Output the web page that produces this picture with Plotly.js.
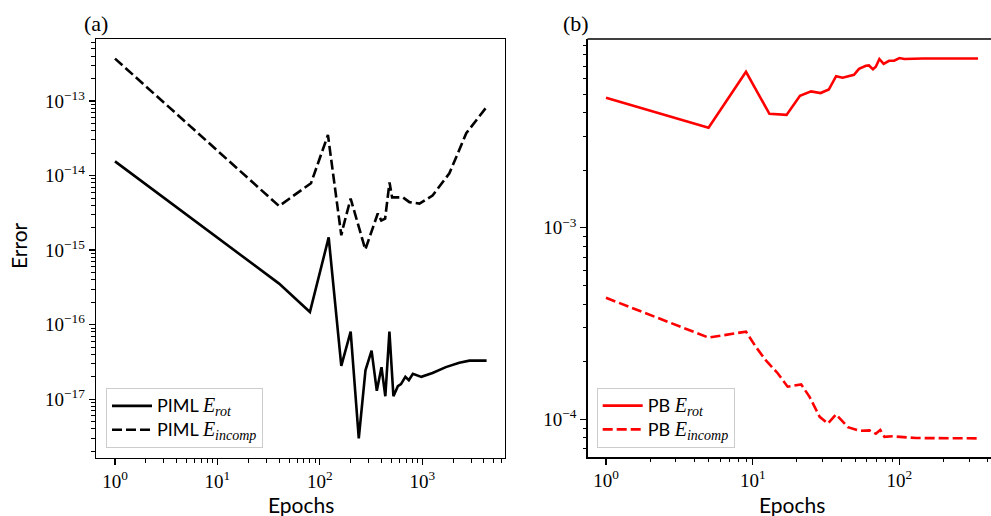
<!DOCTYPE html>
<html>
<head>
<meta charset="utf-8">
<script src="https://cdn.plot.ly/plotly-3.0.1.min.js"></script>
<style>html,body{margin:0;padding:0;background:#fff;}#chart{width:991px;height:516px;}</style>
</head>
<body>
<div id="chart"></div>
<script>
// ---- Data ----
const pimlRotEpochs = [1, 40, 80, 122, 162, 200, 240, 279, 320, 360, 400, 436, 478, 523, 578, 620, 684, 740, 810, 980, 1260, 1700, 2300, 2890, 4250];
const pimlRot = [1.55e-14, 3.56e-16, 1.48e-16, 1.48e-15, 2.8e-17, 8.1e-17, 3.0e-18, 2.45e-17, 4.5e-17, 1.3e-17, 2.7e-17, 1.1e-17, 8.1e-17, 1.1e-17, 1.5e-17, 1.6e-17, 2.0e-17, 1.8e-17, 2.2e-17, 2.0e-17, 2.25e-17, 2.7e-17, 3.1e-17, 3.3e-17, 3.3e-17];

const pimlIncEpochs = [1, 40, 82, 120, 162, 169, 200, 278, 368, 398, 434, 479, 508, 646, 750, 940, 1260, 1840, 2690, 3350, 4250];
const pimlInc = [3.7e-13, 3.9e-15, 7.9e-15, 3.5e-14, 1.58e-15, 2.04e-15, 4.9e-15, 1.02e-15, 3.1e-15, 2.5e-15, 2.65e-15, 8.1e-15, 5.1e-15, 5.1e-15, 4.4e-15, 4.2e-15, 5.4e-15, 1.07e-14, 3.7e-14, 5.5e-14, 8.3e-14];

const pbRotEpochs = [1, 5, 9, 13, 17, 21, 25, 29, 33, 37, 41, 49, 53, 59, 62, 66, 69, 73, 78, 85, 92, 100, 108, 144, 343];
const pbRot = [4.78e-3, 3.33e-3, 6.53e-3, 3.94e-3, 3.89e-3, 4.9e-3, 5.16e-3, 5.06e-3, 5.28e-3, 6.2e-3, 6.08e-3, 6.3e-3, 6.77e-3, 7.03e-3, 7.05e-3, 6.73e-3, 6.94e-3, 7.62e-3, 7.19e-3, 7.46e-3, 7.46e-3, 7.71e-3, 7.62e-3, 7.66e-3, 7.66e-3];

const pbIncEpochs = [1, 5, 9, 10.5, 12.3, 14.8, 17.3, 21.4, 24.4, 28.6, 32.5, 37, 44.5, 53.4, 62.5, 69, 74, 79, 90, 130, 343];
const pbInc = [4.31e-4, 2.67e-4, 2.87e-4, 2.39e-4, 2.03e-4, 1.74e-4, 1.48e-4, 1.52e-4, 1.31e-4, 1.03e-4, 9.5e-5, 1.06e-4, 9.1e-5, 8.7e-5, 8.75e-5, 8.4e-5, 8.8e-5, 8.1e-5, 8.15e-5, 7.98e-5, 7.95e-5];

const xTickValsA = [1, 10, 100, 1000];
const xTickTextA = ['10<sup>0</sup>', '10<sup>1</sup>', '10<sup>2</sup>', '10<sup>3</sup>'];
const yTickValsA = [1e-17, 1e-16, 1e-15, 1e-14, 1e-13];
const yTickTextA = ['10<sup>\u221217</sup>', '10<sup>\u221216</sup>', '10<sup>\u221215</sup>', '10<sup>\u221214</sup>', '10<sup>\u221213</sup>'];
const xTickValsB = [1, 10, 100];
const xTickTextB = ['10<sup>0</sup>', '10<sup>1</sup>', '10<sup>2</sup>'];
const yTickValsB = [1e-4, 1e-3];
const yTickTextB = ['10<sup>\u22124</sup>', '10<sup>\u22123</sup>'];

const seriesLabels = ['PIML', 'PIML', 'PB', 'PB'];
const seriesSymbols = ['rot', 'incomp', 'rot', 'incomp'];

function legendName(i) {
  return '<span style="font-size:18px">' + seriesLabels[i] + ' </span>' +
    '<span style="font-family:Liberation Serif;font-size:20px"><i>E<sub>' + seriesSymbols[i] + '</sub></i></span>';
}

// ---- Layout helpers (pixels -> paper) ----
const W = 991, H = 516;
const px = v => v / W;
const py = v => (H - v) / H;

function minorVals(lo, hi) {
  const out = [];
  for (let e = lo; e <= hi; e++) for (let m = 2; m <= 9; m++) out.push(m * Math.pow(10, e));
  return out;
}

const sansFont = 'Lato, "Open Sans", sans-serif';
const serifFont = '"Liberation Serif", "DejaVu Serif", serif';

function axisBase(extra) {
  return Object.assign({
    type: 'log', showgrid: false, zeroline: false,
    showline: true, linecolor: '#000', linewidth: 1.3, mirror: true,
    ticks: 'outside', ticklen: 6, tickwidth: 1.3, tickcolor: '#000',
    tickfont: {family: serifFont, size: 19, color: '#000'},
    tickmode: 'array'
  }, extra);
}

const traces = [
  {x: pimlRotEpochs, y: pimlRot, xaxis: 'x', yaxis: 'y', mode: 'lines', name: legendName(0),
   line: {color: '#000', width: 2.6}, legend: 'legend'},
  {x: pimlIncEpochs, y: pimlInc, xaxis: 'x', yaxis: 'y', mode: 'lines', name: legendName(1),
   line: {color: '#000', width: 2.6, dash: '10px,4px'}, legend: 'legend'},
  {x: pbRotEpochs, y: pbRot, xaxis: 'x2', yaxis: 'y2', mode: 'lines', name: legendName(2),
   line: {color: '#ff0000', width: 2.6}, legend: 'legend2'},
  {x: pbIncEpochs, y: pbInc, xaxis: 'x2', yaxis: 'y2', mode: 'lines', name: legendName(3),
   line: {color: '#ff0000', width: 2.6, dash: '10px,4px'}, legend: 'legend2'}
];

const minorStyle = {ticks: 'outside', ticklen: 3.5, tickwidth: 1, tickcolor: '#000', showgrid: false};

const legendStyle = {
  bgcolor: 'rgba(255,255,255,0.8)', bordercolor: '#cccccc', borderwidth: 1,
  font: {family: sansFont, size: 16, color: '#000'},
  xanchor: 'left', yanchor: 'bottom', itemwidth: 40, tracegroupgap: 0
};

const layout = {
  width: W, height: H,
  margin: {l: 0, r: 0, t: 0, b: 0},
  paper_bgcolor: '#fff', plot_bgcolor: '#fff',
  showlegend: true,
  xaxis: axisBase({domain: [px(96), px(505)], range: [-0.1855, 3.808], anchor: 'y',
    tickvals: xTickValsA, ticktext: xTickTextA,
    minor: Object.assign({tickmode: 'array', tickvals: minorVals(0, 3)}, minorStyle)}),
  yaxis: axisBase({domain: [py(458), py(39)], range: [-17.787, -12.169], anchor: 'x',
    tickvals: yTickValsA, ticktext: yTickTextA,
    minor: Object.assign({tickmode: 'array', tickvals: minorVals(-18, -13)}, minorStyle)}),
  xaxis2: axisBase({domain: [px(587.5), 1], range: [-0.126, 2.624], anchor: 'y2', mirror: false,
    tickvals: xTickValsB, ticktext: xTickTextB,
    minor: Object.assign({tickmode: 'array', tickvals: minorVals(0, 2)}, minorStyle)}),
  yaxis2: axisBase({domain: [py(457.3), py(39)], range: [-4.1986, -2.0136], anchor: 'x2', mirror: false,
    tickvals: yTickValsB, ticktext: yTickTextB,
    minor: Object.assign({tickmode: 'array', tickvals: minorVals(-5, -3)}, minorStyle)}),
  legend: Object.assign({x: px(106), y: py(448)}, legendStyle),
  legend2: Object.assign({x: px(596.7), y: py(447.7)}, legendStyle),
  shapes: [
    {type: 'line', xref: 'x2 domain', yref: 'y2 domain', x0: 0, x1: 1.02, y0: 1, y1: 1,
     line: {color: '#000', width: 1.3}}
  ],
  annotations: [
    {text: '(a)', x: px(96), y: py(23.5), xref: 'paper', yref: 'paper', xanchor: 'center', yanchor: 'middle',
     showarrow: false, font: {family: serifFont, size: 22, color: '#000'}},
    {text: '(b)', x: px(575.5), y: py(23.5), xref: 'paper', yref: 'paper', xanchor: 'center', yanchor: 'middle',
     showarrow: false, font: {family: serifFont, size: 22, color: '#000'}},
    {text: 'Error', x: px(19), y: py(246), xref: 'paper', yref: 'paper', xanchor: 'center', yanchor: 'middle',
     textangle: -90, showarrow: false, font: {family: sansFont, size: 21, color: '#000'}},
    {text: 'Epochs', x: px(300.5), y: py(504), xref: 'paper', yref: 'paper', xanchor: 'center', yanchor: 'middle',
     showarrow: false, font: {family: sansFont, size: 21, color: '#000'}},
    {text: 'Epochs', x: px(792), y: py(504), xref: 'paper', yref: 'paper', xanchor: 'center', yanchor: 'middle',
     showarrow: false, font: {family: sansFont, size: 21, color: '#000'}}
  ]
};

Plotly.newPlot('chart', traces, layout, {staticPlot: true, displayModeBar: false});
</script>
</body>
</html>
